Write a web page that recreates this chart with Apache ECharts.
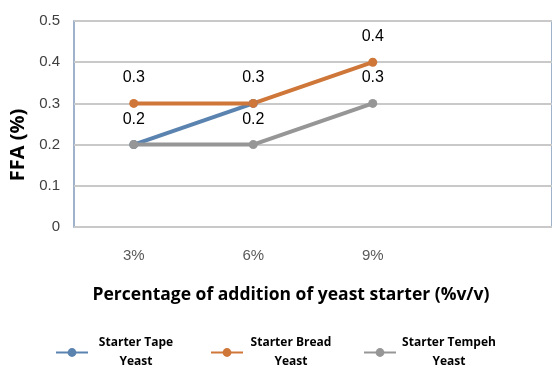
<!DOCTYPE html>
<html>
<head>
<meta charset="utf-8">
<script src="https://cdn.jsdelivr.net/npm/echarts@6/dist/echarts.min.js"></script>
<style>
  html, body { margin: 0; padding: 0; background: #fff; }
  #main { width: 552px; height: 365px; }
</style>
</head>
<body>
<div id="main"></div>
<script>
// categories, last slot is an empty band so the plot runs off the right edge
var categories = ['3%', '6%', '9%', ''];
var tapeYeast = [0.2, 0.3, null, null];
var breadYeast = [0.3, 0.3, 0.4, null];
var tempehYeast = [0.2, 0.2, 0.3, null];

var seriesNames = ['Starter Tape Yeast', 'Starter Bread Yeast', 'Starter Tempeh Yeast'];
var legendLines = [['Starter Tape', 'Yeast'], ['Starter Bread', 'Yeast'], ['Starter Tempeh', 'Yeast']];
var colors = ['#5b83b0', '#cf7639', '#969696'];

var labelFont = "'Liberation Sans', Arial, sans-serif";

// tape labels sit exactly under the other two series' labels, so they are left off
function makeSeries(name, data, color, showLabel) {
    return {
        name: name,
        type: 'line',
        data: data,
        symbol: 'circle',
        symbolSize: 9,
        itemStyle: { color: color },
        lineStyle: { color: color, width: 4 },
        label: {
            show: showLabel,
            position: 'top',
            distance: 13,
            color: '#000',
            fontSize: 16,
            fontFamily: labelFont,
            formatter: function (p) { return p.value.toFixed(1); }
        }
    };
}

function makeLegend(i, left) {
    return {
        data: [seriesNames[i]],
        left: left,
        top: 332,
        itemWidth: 32,
        itemHeight: 11,
        itemGap: 0,
        formatter: function () {
            return '{a|' + legendLines[i][0] + '}\n{a|' + legendLines[i][1] + '}';
        },
        textStyle: {
            rich: {
                a: {
                    width: i === 2 ? 96 : 86,
                    align: 'center',
                    fontSize: 12,
                    fontWeight: 'bold',
                    fontFamily: "'Open Sans', sans-serif",
                    color: '#000',
                    lineHeight: 19
                }
            }
        }
    };
}

var myChart = echarts.init(document.getElementById('main'));
var option = {
    animation: false,
    grid: {
        left: 74,
        top: 21,
        right: -10,
        bottom: 138,
        show: true,
        borderColor: '#8199ba',
        borderWidth: 1.5
    },
    legend: [makeLegend(0, 50), makeLegend(1, 205), makeLegend(2, 358)],
    xAxis: {
        type: 'category',
        data: categories,
        boundaryGap: true,
        axisLine: { show: false },
        axisTick: { show: false },
        axisLabel: { color: '#595959', fontSize: 15, margin: 21, fontFamily: labelFont },
        name: 'Percentage of addition of yeast starter (%v/v)',
        nameLocation: 'middle',
        nameGap: 59,
        nameTextStyle: {
            color: '#000',
            fontSize: 17.5,
            fontWeight: 'bold',
            fontFamily: "'Open Sans', sans-serif",
            padding: [0, 44, 0, 0]
        }
    },
    yAxis: {
        type: 'value',
        min: 0,
        max: 0.5,
        interval: 0.1,
        axisLine: { show: false },
        axisTick: { show: false },
        axisLabel: { color: '#404040', fontSize: 15, margin: 14, fontFamily: labelFont },
        splitLine: { lineStyle: { color: '#c9c9c9', width: 2 } },
        name: 'FFA (%)',
        nameLocation: 'middle',
        nameGap: 40,
        nameTextStyle: {
            color: '#000',
            fontSize: 20,
            fontWeight: 'bold',
            fontFamily: "'Open Sans', sans-serif",
            padding: [0, 42, 0, 0]
        }
    },
    series: [
        makeSeries(seriesNames[0], tapeYeast, colors[0], false),
        makeSeries(seriesNames[1], breadYeast, colors[1], true),
        makeSeries(seriesNames[2], tempehYeast, colors[2], true)
    ]
};
myChart.setOption(option);
</script>
</body>
</html>
